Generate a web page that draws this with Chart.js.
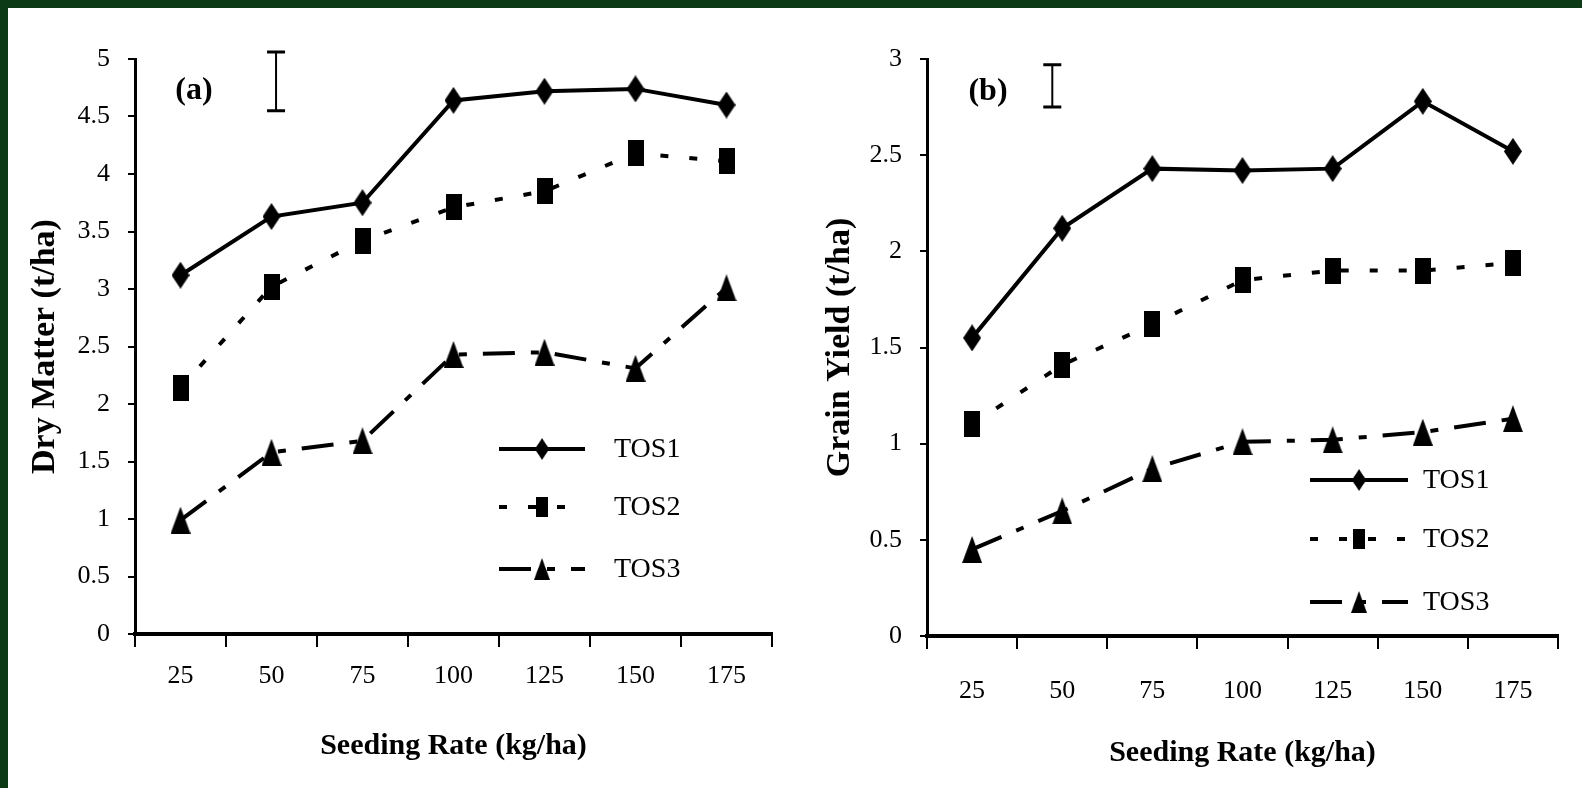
<!DOCTYPE html>
<html>
<head>
<meta charset="utf-8">
<title>Seeding rate charts</title>
<script src="https://cdn.jsdelivr.net/npm/chart.js@4.4.0/dist/chart.umd.min.js"></script>
<style>
	body { margin: 0; background: #fff; width: 1582px; height: 788px; overflow: hidden; position: relative; }
	.edge { position: absolute; background: #0c3a16; }
	#edge-top { left: 0; top: 0; width: 1582px; height: 8px; }
	#edge-left { left: 0; top: 0; width: 8px; height: 788px; }
	#chartA { position: absolute; left: 0; top: 0; }
	#chartB { position: absolute; left: 790px; top: 0; }
</style>
</head>
<body>
<div class="edge" id="edge-top"></div>
<div class="edge" id="edge-left"></div>
<canvas id="chartA" width="790" height="788"></canvas>
<canvas id="chartB" width="792" height="788"></canvas>
<script>
// Seeding rates (kg/ha) - category labels on both x axes
const seedingRates = ['25', '50', '75', '100', '125', '150', '175'];
const seriesNames = ['TOS1', 'TOS2', 'TOS3'];

// (a) Dry matter (t/ha)
const dryTOS1 = [3.12, 3.63, 3.75, 4.64, 4.72, 4.74, 4.60];
const dryTOS2 = [2.14, 3.02, 3.42, 3.71, 3.85, 4.18, 4.11];
const dryTOS3 = [0.99, 1.58, 1.68, 2.43, 2.45, 2.31, 3.01];
const dryLSD = [4.55, 5.06]; // the I bar, low and high

// (b) Grain yield (t/ha)
const grainTOS1 = [1.55, 2.12, 2.43, 2.42, 2.43, 2.78, 2.52];
const grainTOS2 = [1.10, 1.41, 1.62, 1.85, 1.90, 1.90, 1.94];
const grainTOS3 = [0.45, 0.65, 0.87, 1.01, 1.02, 1.06, 1.13];
const grainLSD = [2.75, 2.97];

const serif = '"Liberation Serif", "Times New Roman", serif';

// small canvas markers, taller than wide like the original
function makeMarker(shape, w, h) {
	const c = document.createElement('canvas');
	c.width = w;
	c.height = h;
	const g = c.getContext('2d');
	g.fillStyle = '#000';
	g.beginPath();
	if (shape === 'diamond') {
		g.moveTo(w / 2, 0); g.lineTo(w, h / 2); g.lineTo(w / 2, h); g.lineTo(0, h / 2);
	} else if (shape === 'square') {
		g.rect(0, 0, w, h);
	} else {
		g.moveTo(w / 2, 0); g.lineTo(w, h); g.lineTo(0, h);
	}
	g.closePath();
	g.fill();
	return c;
}

const diamond = makeMarker('diamond', 18, 27);
const square = makeMarker('square', 16, 26);
const triangle = makeMarker('triangle', 20, 27);

const seriesStyles = [
	{ pointStyle: diamond, borderDash: [] },
	{ pointStyle: square, borderDash: [8, 21] },
	{ pointStyle: triangle, borderDash: [32, 16, 8, 16] }
];

function buildDatasets(values) {
	return values.map(function (vals, i) {
		return {
			label: seriesNames[i],
			data: vals,
			borderColor: '#000',
			backgroundColor: '#000',
			borderWidth: 4,
			borderDash: seriesStyles[i].borderDash,
			pointStyle: seriesStyles[i].pointStyle,
			pointRadius: 10,
			tension: 0
		};
	});
}

// error bar, panel label and the legend inside the plot
const annotate = {
	id: 'annotate',
	afterDraw(chart, args, opts) {
		const ctx = chart.ctx;
		const xs = chart.scales.x;
		const ys = chart.scales.y;
		ctx.save();
		ctx.strokeStyle = '#000';
		ctx.fillStyle = '#000';

		const ex = xs.getPixelForValue(opts.errX);
		const yLow = ys.getPixelForValue(opts.err[0]);
		const yHigh = ys.getPixelForValue(opts.err[1]);
		ctx.lineWidth = 2;
		ctx.beginPath();
		ctx.moveTo(ex, yLow);
		ctx.lineTo(ex, yHigh);
		ctx.stroke();
		ctx.lineWidth = 3;
		ctx.beginPath();
		ctx.moveTo(ex - 9, yLow); ctx.lineTo(ex + 9, yLow);
		ctx.moveTo(ex - 9, yHigh); ctx.lineTo(ex + 9, yHigh);
		ctx.stroke();

		ctx.font = 'bold 32px ' + serif;
		ctx.textAlign = 'center';
		ctx.textBaseline = 'middle';
		ctx.fillText(opts.label, opts.labelX, opts.labelY);

		chart.data.datasets.forEach(function (ds, i) {
			const ly = opts.legendY[i];
			ctx.lineWidth = ds.borderWidth;
			ctx.setLineDash(ds.borderDash);
			ctx.beginPath();
			ctx.moveTo(opts.legendX0, ly);
			ctx.lineTo(opts.legendX1, ly);
			ctx.stroke();
			ctx.setLineDash([]);
			const m = ds.pointStyle;
			const mx = (opts.legendX0 + opts.legendX1) / 2;
			ctx.drawImage(m, mx - m.width * 0.4, ly - m.height * 0.4, m.width * 0.8, m.height * 0.8);
			ctx.textAlign = 'left';
			ctx.font = '28px ' + serif;
			ctx.fillText(ds.label, opts.legendText, ly + 1);
		});
		ctx.restore();
	}
};

function makeChart(id, datasets, yMax, yTitle, o) {
	return new Chart(document.getElementById(id), {
		type: 'line',
		data: { labels: seedingRates, datasets: datasets },
		plugins: [annotate],
		options: {
			responsive: false,
			animation: false,
			layout: { padding: { top: 59, right: o.padRight, left: 0, bottom: 0 } },
			plugins: {
				legend: { display: false },
				tooltip: { enabled: false },
				annotate: o.annotate
			},
			scales: {
				x: {
					offset: true,
					grid: { offset: true, drawOnChartArea: false, tickLength: 13, color: '#000', lineWidth: 2 },
					border: { display: true, color: '#000', width: 4 },
					ticks: { color: '#000', font: { family: serif, size: 26 }, padding: o.xTickPad, maxRotation: 0 },
					title: {
						display: true, text: 'Seeding Rate (kg/ha)', color: '#000',
						font: { family: serif, size: 30, weight: 'bold' },
						padding: { top: 0, bottom: o.xTitlePad }
					},
					afterFit: function (scale) { scale.height = o.xHeight; }
				},
				y: {
					min: 0,
					max: yMax,
					grid: { drawOnChartArea: false, tickLength: 7, color: '#000', lineWidth: 2 },
					border: { display: true, color: '#000', width: 3 },
					ticks: {
						stepSize: 0.5, color: '#000', padding: 18,
						font: { family: serif, size: 26 },
						callback: function (v) { return String(v); }
					},
					title: {
						display: true, text: yTitle, color: '#000',
						font: { family: serif, size: 34, weight: 'bold' },
						padding: { top: o.yTitlePad, bottom: 0 }
					},
					afterFit: function (scale) { scale.width = o.yWidth; }
				}
			}
		}
	});
}

makeChart('chartA', buildDatasets([dryTOS1, dryTOS2, dryTOS3]), 5, 'Dry Matter (t/ha)', {
	padRight: 18, xHeight: 154, yWidth: 135, xTickPad: 14, xTitlePad: 24, yTitlePad: 25,
	annotate: {
		err: dryLSD, errX: 1.05, label: '(a)', labelX: 194, labelY: 91,
		legendX0: 499, legendX1: 585, legendText: 614, legendY: [449, 507, 569]
	}
});

makeChart('chartB', buildDatasets([grainTOS1, grainTOS2, grainTOS3]), 3, 'Grain Yield (t/ha)', {
	padRight: 24, xHeight: 152, yWidth: 137, xTickPad: 27, xTitlePad: 17, yTitlePad: 30,
	annotate: {
		err: grainLSD, errX: 0.89, label: '(b)', labelX: 198, labelY: 92,
		legendX0: 520, legendX1: 618, legendText: 633, legendY: [480, 539, 602]
	}
});
</script>
</body>
</html>
